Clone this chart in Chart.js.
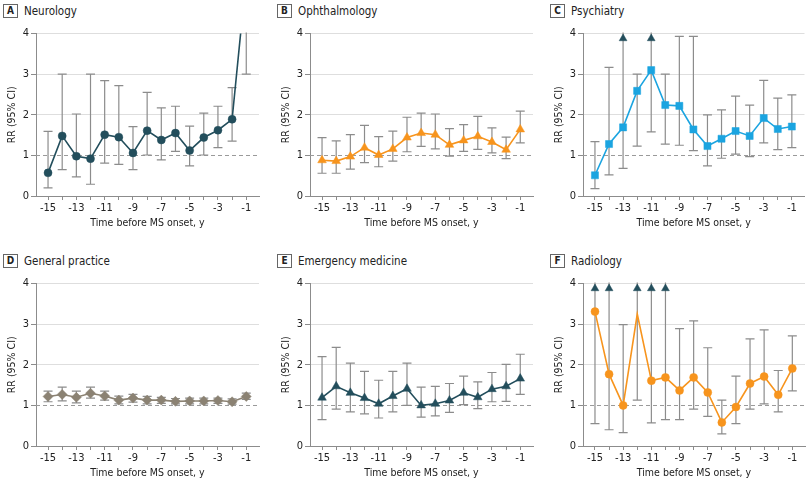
<!DOCTYPE html>
<html>
<head>
<meta charset="utf-8">
<script src="https://cdn.jsdelivr.net/npm/chart.js@4.4.1/dist/chart.umd.min.js"></script>
<style>
  body { margin: 0; width: 810px; height: 482px; overflow: hidden; position: relative; background: #fff;
         font-family: "DejaVu Sans Condensed", "Liberation Sans Narrow", sans-serif; color: #222; }
  .panel { position: absolute; }
  .lbl { position: absolute; font-size: 11.5px; white-space: nowrap; line-height: 14px; }
  .lbl b { display: inline-block; box-sizing: border-box; border: 1px solid #666; width: 15px; height: 14px;
           line-height: 12px; text-align: center; font-size: 10px; margin-right: 6px; vertical-align: top; }
</style>
</head>
<body>
<script>
// x positions, years before MS onset
var years = [-15, -14, -13, -12, -11, -10, -9, -8, -7, -6, -5, -4, -3, -2, -1];

// A Neurology (the -1 estimate runs off the top of the axis)
var neurologyRR = [0.57, 1.48, 0.98, 0.92, 1.51, 1.45, 1.06, 1.61, 1.38, 1.55, 1.12, 1.44, 1.62, 1.89, 5.4];
var neurologyLo = [0.20, 0.65, 0.47, 0.29, 0.81, 0.78, 0.65, 1.01, 0.89, 1.10, 0.74, 1.01, 1.19, 1.35, 3.00];
var neurologyHi = [1.59, 3.00, 2.02, 3.00, 2.84, 2.72, 1.71, 2.55, 2.17, 2.21, 1.72, 2.04, 2.21, 2.67, 9.0];

// B Ophthalmology
var ophthalRR = [0.88, 0.86, 0.97, 1.19, 1.01, 1.16, 1.44, 1.55, 1.51, 1.26, 1.37, 1.47, 1.33, 1.14, 1.64];
var ophthalLo = [0.56, 0.56, 0.66, 0.82, 0.72, 0.86, 1.09, 1.22, 1.16, 0.98, 1.10, 1.15, 1.06, 0.92, 1.31];
var ophthalHi = [1.44, 1.36, 1.51, 1.74, 1.46, 1.60, 1.94, 2.04, 2.02, 1.66, 1.76, 1.96, 1.68, 1.45, 2.09];

// C Psychiatry
var psychRR = [0.51, 1.28, 1.69, 2.59, 3.10, 2.24, 2.22, 1.64, 1.23, 1.41, 1.60, 1.48, 1.92, 1.65, 1.71];
var psychLo = [0.18, 0.52, 0.68, 1.23, 1.58, 1.28, 1.25, 1.12, 0.74, 0.93, 1.03, 0.97, 1.31, 1.14, 1.19];
var psychHi = [1.34, 3.17, 4.60, 3.00, 4.80, 3.00, 3.93, 3.93, 2.00, 2.12, 2.46, 2.24, 2.85, 2.41, 2.49];
var psychArrows = [-13, -11];

// D General practice
var gpRR = [1.22, 1.27, 1.20, 1.30, 1.23, 1.13, 1.18, 1.13, 1.13, 1.10, 1.11, 1.11, 1.12, 1.09, 1.22];
var gpLo = [1.09, 1.11, 1.06, 1.18, 1.13, 1.04, 1.08, 1.04, 1.05, 1.04, 1.04, 1.04, 1.05, 1.03, 1.15];
var gpHi = [1.35, 1.45, 1.35, 1.45, 1.35, 1.23, 1.27, 1.22, 1.20, 1.17, 1.18, 1.18, 1.18, 1.16, 1.30];

// E Emergency medicine
var emergRR = [1.19, 1.47, 1.31, 1.18, 1.04, 1.23, 1.41, 1.00, 1.04, 1.12, 1.31, 1.20, 1.40, 1.47, 1.66];
var emergLo = [0.65, 0.91, 0.84, 0.79, 0.69, 0.84, 1.00, 0.71, 0.74, 0.83, 1.02, 0.92, 1.09, 1.10, 1.27];
var emergHi = [2.20, 2.43, 2.04, 1.84, 1.62, 1.84, 2.04, 1.45, 1.47, 1.54, 1.72, 1.58, 1.81, 2.01, 2.26];

// F Radiology (no marker drawn at -12 in the original)
var radioRR = [3.31, 1.77, 1.00, 3.25, 1.61, 1.69, 1.37, 1.69, 1.32, 0.58, 0.96, 1.54, 1.71, 1.26, 1.91];
var radioLo = [0.55, 0.40, 0.33, 1.13, 0.57, 0.65, 0.65, 0.91, 0.73, 0.30, 0.55, 0.91, 1.04, 0.84, 1.36];
var radioHi = [5.50, 5.00, 2.99, 6.00, 5.00, 5.00, 2.89, 3.08, 2.42, 1.13, 1.72, 2.64, 2.86, 1.86, 2.71];
var radioArrows = [-15, -14, -12, -11, -10];
var radioNoMarker = [-12];

var yTicks = [0, 1, 2, 3, 4];
var ARROW_Y = 3.88;

var FONT = '"DejaVu Sans Condensed", "Liberation Sans Narrow", sans-serif';
var TEAL = '#234e5c', GREY = '#8c8c8c';

var panels = [
  { letter: 'A', name: 'Neurology', rr: neurologyRR, lo: neurologyLo, hi: neurologyHi, arrows: [],
    color: TEAL, style: 'circle', r: 4, col: 0, row: 0 },
  { letter: 'B', name: 'Ophthalmology', rr: ophthalRR, lo: ophthalLo, hi: ophthalHi, arrows: [],
    color: '#f7941d', style: 'triangle', r: 5, col: 1, row: 0 },
  { letter: 'C', name: 'Psychiatry', rr: psychRR, lo: psychLo, hi: psychHi, arrows: psychArrows,
    color: '#1ba4e0', style: 'rect', r: 5, col: 2, row: 0 },
  { letter: 'D', name: 'General practice', rr: gpRR, lo: gpLo, hi: gpHi, arrows: [],
    color: '#8b8273', style: 'rectRot', r: 5, col: 0, row: 1 },
  { letter: 'E', name: 'Emergency medicine', rr: emergRR, lo: emergLo, hi: emergHi, arrows: [],
    color: TEAL, style: 'triangle', r: 5, col: 1, row: 1 },
  { letter: 'F', name: 'Radiology', rr: radioRR, lo: radioLo, hi: radioHi, arrows: radioArrows,
    color: '#f7941d', style: 'circle', r: 4, col: 2, row: 1, noMarker: radioNoMarker }
];

var colLeft = [0, 274, 547], colWidth = [270, 270, 263], colPadRight = [11, 11, 2];
var rowTop = [0, 250];

// dashed RR = 1 line and the 95% CI whiskers, drawn under the series
function errorBars(lo, hi) {
  return {
    id: 'errorBars',
    beforeDatasetsDraw: function(chart) {
      var ctx = chart.ctx, a = chart.chartArea, xs = chart.scales.x, ys = chart.scales.y;
      ctx.save();
      ctx.beginPath();
      ctx.rect(a.left, a.top - 1, a.right - a.left, a.bottom - a.top + 1);
      ctx.clip();
      var y1 = Math.round(ys.getPixelForValue(1)) + 0.5;
      ctx.strokeStyle = '#9a9a9a';
      ctx.lineWidth = 1;
      ctx.setLineDash([4, 3]);
      ctx.beginPath();
      ctx.moveTo(a.left, y1);
      ctx.lineTo(a.right, y1);
      ctx.stroke();
      ctx.setLineDash([]);
      ctx.strokeStyle = GREY;
      ctx.lineWidth = 1.2;
      for (var i = 0; i < years.length; i++) {
        var px = xs.getPixelForValue(years[i]);
        var top = ys.getPixelForValue(Math.min(hi[i], 4.2));
        var bot = ys.getPixelForValue(lo[i]);
        ctx.beginPath();
        ctx.moveTo(px, bot);
        ctx.lineTo(px, top);
        ctx.moveTo(px - 4.5, bot);
        ctx.lineTo(px + 4.5, bot);
        if (hi[i] <= 4) {
          ctx.moveTo(px - 4.5, top);
          ctx.lineTo(px + 4.5, top);
        }
        ctx.stroke();
      }
      ctx.restore();
    }
  };
}

panels.forEach(function(p) {
  var left = colLeft[p.col], top = rowTop[p.row];

  var lbl = document.createElement('div');
  lbl.className = 'lbl';
  lbl.style.left = (left + 3) + 'px';
  lbl.style.top = (top + 4) + 'px';
  lbl.innerHTML = '<b>' + p.letter + '</b>' + p.name;
  document.body.appendChild(lbl);

  var box = document.createElement('div');
  box.className = 'panel';
  box.style.left = left + 'px';
  box.style.top = (top + 25) + 'px';
  box.style.width = colWidth[p.col] + 'px';
  box.style.height = '215px';
  var cv = document.createElement('canvas');
  box.appendChild(cv);
  document.body.appendChild(box);

  var points = years.map(function(x, i) { return { x: x, y: p.rr[i] }; });
  var radii = years.map(function(x) {
    return (p.noMarker && p.noMarker.indexOf(x) >= 0) ? 0 : p.r;
  });
  var arrowPts = p.arrows.map(function(x) { return { x: x, y: ARROW_Y }; });

  new Chart(cv, {
    type: 'scatter',
    data: {
      datasets: [
        {
          data: points,
          showLine: true,
          borderColor: p.color,
          backgroundColor: p.color,
          borderWidth: 1.6,
          pointStyle: p.style,
          pointRadius: radii,
          pointBorderWidth: 0.5,
          pointBorderColor: p.color
        },
        {
          data: arrowPts,
          showLine: false,
          backgroundColor: TEAL,
          borderColor: TEAL,
          pointStyle: 'triangle',
          pointRadius: 4.5,
          pointBorderWidth: 0.5
        }
      ]
    },
    plugins: [errorBars(p.lo, p.hi)],
    options: {
      responsive: true,
      maintainAspectRatio: false,
      animation: false,
      layout: { padding: { top: 8, right: colPadRight[p.col], left: 0, bottom: 0 } },
      plugins: { legend: { display: false }, tooltip: { enabled: false } },
      scales: {
        x: {
          type: 'linear',
          min: -15.85,
          max: -0.1,
          afterBuildTicks: function(s) { s.ticks = years.map(function(v) { return { value: v }; }); },
          afterFit: function(s) { s.height = 44; },
          ticks: {
            autoSkip: false, maxRotation: 0, padding: 2, color: '#222',
            font: { family: FONT, size: 11 },
            callback: function(v) { return v % 2 ? String(v) : ''; }
          },
          grid: { drawOnChartArea: false, tickLength: 4, tickColor: GREY },
          border: { color: GREY },
          title: { display: true, text: 'Time before MS onset, y', color: '#222',
                   font: { family: FONT, size: 10.5 }, padding: 10 }
        },
        y: {
          min: 0,
          max: 4,
          afterBuildTicks: function(s) { s.ticks = yTicks.map(function(v) { return { value: v }; }); },
          afterFit: function(s) { s.width = 36; },
          ticks: { padding: 2, color: '#222', font: { family: FONT, size: 11 } },
          grid: {
            color: function(c) { return c.tick && c.tick.value >= 2 ? '#dedede' : 'rgba(0,0,0,0)'; },
            tickColor: GREY, tickLength: 5
          },
          border: { color: GREY },
          title: { display: true, text: 'RR (95% CI)', color: '#222',
                   font: { family: FONT, size: 10.5 }, padding: 6 }
        }
      }
    }
  });
});
</script>
</body>
</html>
